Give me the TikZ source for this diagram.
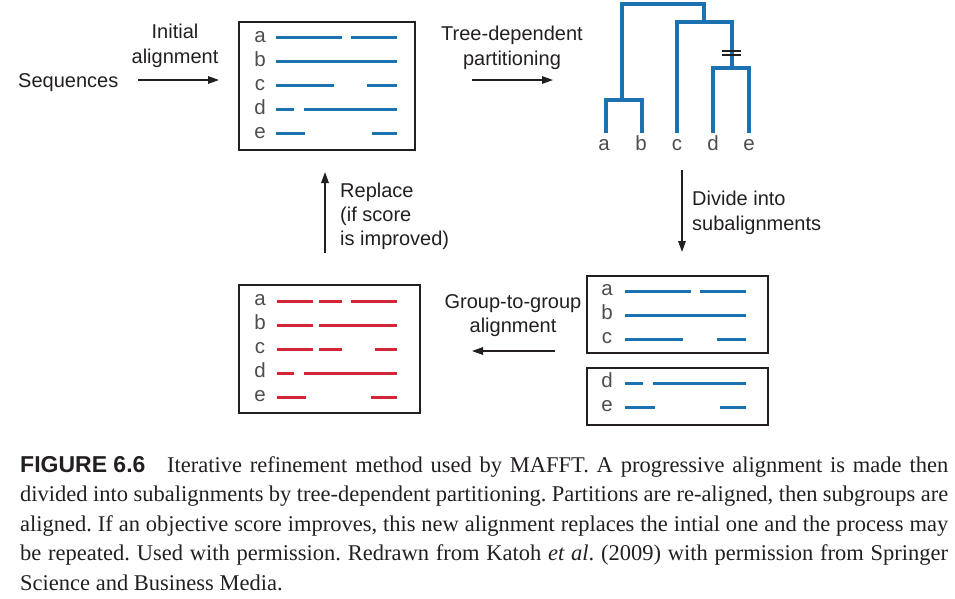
\documentclass[tikz,border=0pt]{standalone}
\usepackage{fontspec}
\setmainfont{Liberation Sans}
\newfontfamily\capserif{Liberation Serif}
\newfontfamily\capsans{Liberation Sans}
\usetikzlibrary{arrows.meta}
\definecolor{seqblue}{RGB}{28,113,176}
\definecolor{seqred}{RGB}{210,38,52}
\definecolor{ink}{RGB}{35,31,32}
\frenchspacing
\begin{document}
\begin{tikzpicture}[x=1pt,y=-1pt,
 lbl/.style={font=\fontsize{20}{24}\selectfont, text=ink, inner sep=0pt, anchor=base},
 lblw/.style={lbl, anchor=base west},
 boxlbl/.style={font=\fontsize{20.5}{24}\selectfont, text=ink!80, inner sep=0pt, anchor=base},
 panel/.style={draw=ink, line width=1.4pt, inner sep=0pt},
 blueseg/.style={seqblue, line width=3pt},
 redseg/.style={seqred, line width=3pt},
 treeline/.style={seqblue, line width=4pt, line join=miter},
 hashmark/.style={ink, line width=1.2pt},
 flow/.style={draw=ink, line width=1.5pt, -{Triangle[length=11pt,width=7.5pt]}},
 captext/.style={font=\capserif\fontsize{22.5}{26}\selectfont, text=ink, inner sep=0pt, anchor=base west},
]
\useasboundingbox (0,0) rectangle (955,598);

% ---------- panels ----------
\node[panel, minimum width=176pt, minimum height=128pt] (box1) at (327,86) {};
\node[panel, minimum width=181pt, minimum height=128pt] (box3) at (329.5,349) {};
\node[panel, minimum width=181pt, minimum height=77pt] (box4) at (677.5,314.5) {};
\node[panel, minimum width=181pt, minimum height=57pt] (box5) at (677.5,396.5) {};

% ---------- box 1 (initial alignment) ----------
\foreach \l/\y [count=\i] in {a/42,b/66,c/90,d/114,e/138}
  \node[boxlbl] (b1l\i) at (260,\y) {\l};
\draw[blueseg] (276,37.5) -- (342,37.5);  \draw[blueseg] (351,37.5) -- (397,37.5);
\draw[blueseg] (276,61.5) -- (397,61.5);
\draw[blueseg] (276,85.5) -- (334,85.5);  \draw[blueseg] (367,85.5) -- (397,85.5);
\draw[blueseg] (276,109.5) -- (294,109.5); \draw[blueseg] (304,109.5) -- (397,109.5);
\draw[blueseg] (276,133.5) -- (305,133.5); \draw[blueseg] (372,133.5) -- (397,133.5);

% ---------- box 3 (refined, red) ----------
\foreach \l/\y [count=\i] in {a/305.5,b/329.5,c/353.5,d/377.5,e/401.5}
  \node[boxlbl] (b3l\i) at (260,\y) {\l};
\draw[redseg] (277,301) -- (313,301); \draw[redseg] (319,301) -- (342,301); \draw[redseg] (351,301) -- (397,301);
\draw[redseg] (277,325) -- (313,325); \draw[redseg] (319,325) -- (397,325);
\draw[redseg] (277,349) -- (313,349); \draw[redseg] (319,349) -- (342,349); \draw[redseg] (375,349) -- (397,349);
\draw[redseg] (277,373) -- (294,373); \draw[redseg] (304,373) -- (397,373);
\draw[redseg] (277,397) -- (306,397); \draw[redseg] (371,397) -- (397,397);

% ---------- box 4 / box 5 (subalignments) ----------
\foreach \l/\y [count=\i] in {a/295.5,b/319.5,c/343.5}
  \node[boxlbl] (b4l\i) at (607,\y) {\l};
\draw[blueseg] (625,291) -- (691,291); \draw[blueseg] (700,291) -- (746,291);
\draw[blueseg] (625,315) -- (746,315);
\draw[blueseg] (625,339) -- (683,339); \draw[blueseg] (717,339) -- (746,339);
\foreach \l/\y [count=\i] in {d/387.5,e/411.5}
  \node[boxlbl] (b5l\i) at (607,\y) {\l};
\draw[blueseg] (625,383) -- (643,383); \draw[blueseg] (653,383) -- (746,383);
\draw[blueseg] (625,407) -- (655,407); \draw[blueseg] (720,407) -- (746,407);

% ---------- tree ----------
\draw[treeline] (606,133) -- (606,100) -- (642,100) -- (642,133);
\draw[treeline] (622,100) -- (622,4) -- (704,4) -- (704,22);
\draw[treeline] (677,133) -- (677,22) -- (732,22) -- (732,68);
\draw[treeline] (713,133) -- (713,68) -- (749,68) -- (749,133);
\draw[hashmark] (722,51) -- (741,51);
\draw[hashmark] (722,55) -- (741,55);
\foreach \l/\x in {a/604,b/641,c/677,d/713,e/749}
  \node[boxlbl] (leaf\l) at (\x,150) {\l};

% ---------- labels ----------
\node[lbl, anchor=base west] (seq) at (18,87) {Sequences};
\node[lbl] (init1) at (175,38) {Initial};
\node[lbl] (init2) at (175,63) {alignment};
\node[lbl] (tree1) at (512,40) {Tree-dependent};
\node[lbl] (tree2) at (512,65) {partitioning};
\node[lblw] (div1) at (692,205) {Divide into};
\node[lblw] (div2) at (692,230) {subalignments};
\node[lblw] (rep1) at (340,197) {Replace};
\node[lblw] (rep2) at (340,221) {(if score};
\node[lblw] (rep3) at (340,245) {is improved)};
\node[lbl] (grp1) at (513,308) {Group-to-group};
\node[lbl] (grp2) at (513,332) {alignment};

% ---------- arrows ----------
\coordinate (a1s) at (138,80);  \coordinate (a1e) at (219,80);
\coordinate (a2s) at (472,80);  \coordinate (a2e) at (553,80);
\coordinate (a3s) at (682,170); \coordinate (a3e) at (682,252);
\coordinate (a4s) at (555,351); \coordinate (a4e) at (472,351);
\coordinate (a5s) at (325,253); \coordinate (a5e) at (325,172);
\draw[flow] (a1s) -- (a1e);
\draw[flow] (a2s) -- (a2e);
\draw[flow] (a3s) -- (a3e);
\draw[flow] (a4s) -- (a4e);
\draw[flow] (a5s) -- (a5e);

% ---------- caption ----------
\node[inner sep=0pt, anchor=base west, font=\capsans\bfseries\fontsize{23}{26}\selectfont, text=ink] (figlab) at (20,472) {FIGURE 6.6};
\node[captext] (cap1) at (167,472) {\makebox[781pt][s]{Iterative refinement method used by MAFFT. A progressive alignment is made then}};
\node[captext] (cap2) at (20,501.5) {\makebox[928pt][s]{divided into subalignments by tree-dependent partitioning. Partitions are re-aligned, then subgroups are}};
\node[captext] (cap3) at (20,531) {\makebox[928pt][s]{aligned. If an objective score improves, this new alignment replaces the intial one and the process may}};
\node[captext] (cap4) at (20,560.5) {\makebox[928pt][s]{be repeated. Used with permission. Redrawn from Katoh \textit{et al}. (2009) with permission from Springer}};
\node[captext] (cap5) at (20,590) {Science and Business Media.};
\end{tikzpicture}
\end{document}
